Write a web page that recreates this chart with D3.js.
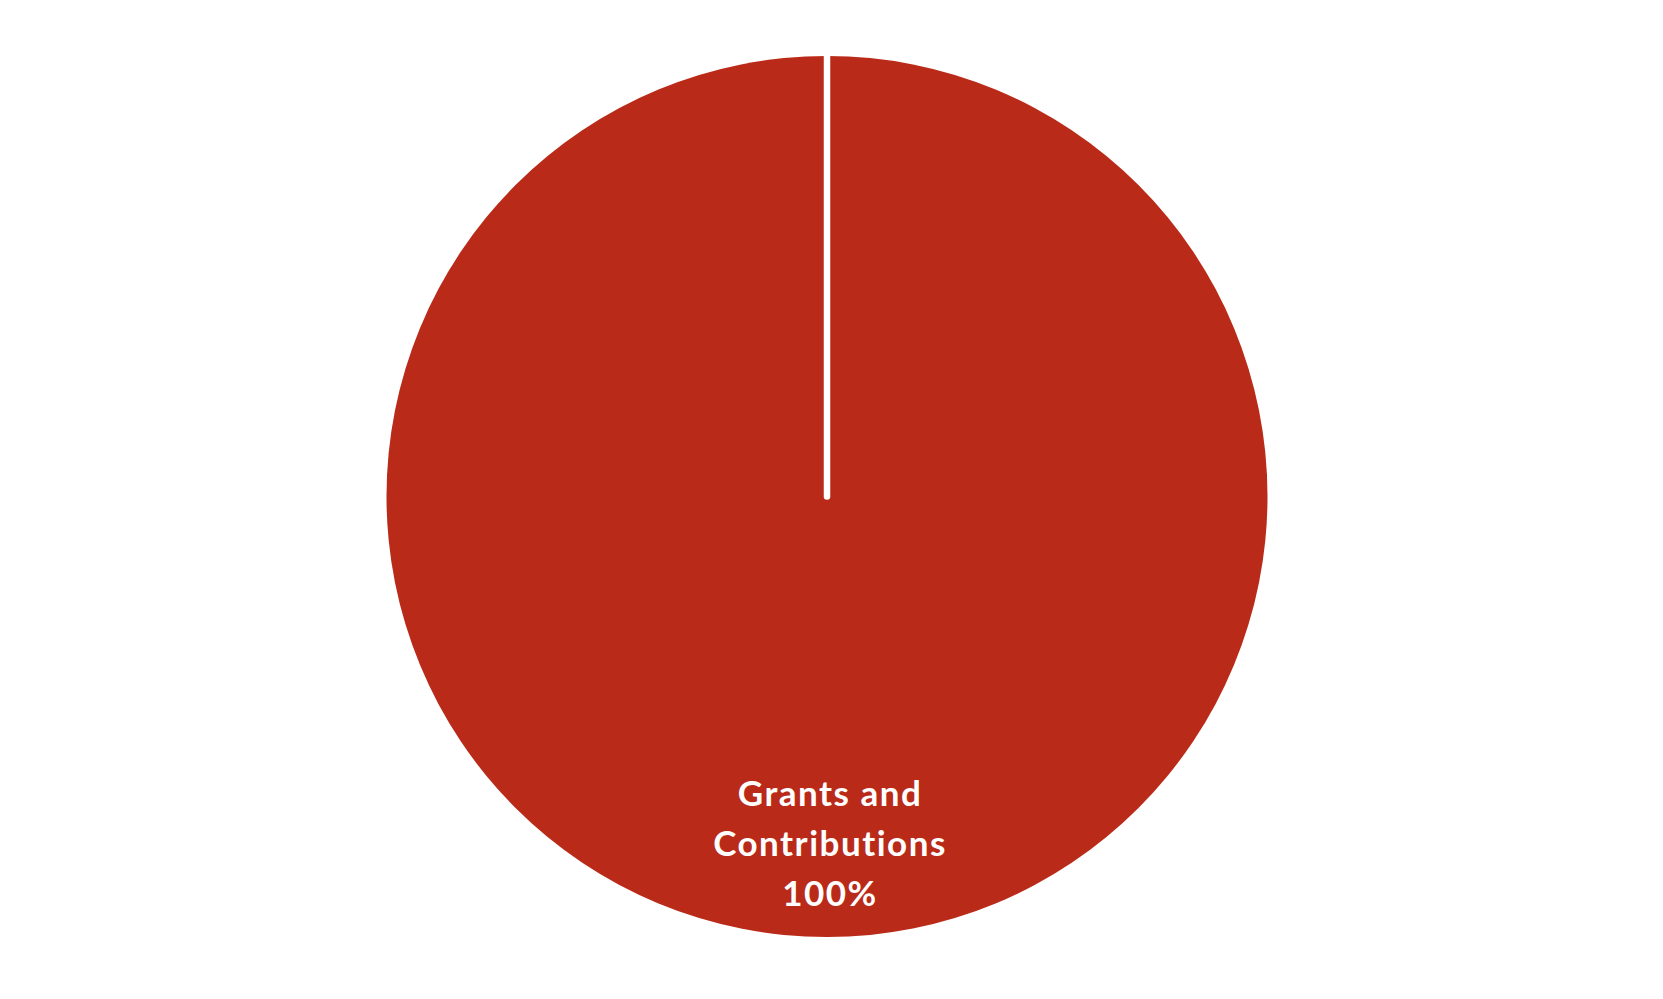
<!DOCTYPE html>
<html>
<head>
<meta charset="utf-8">
<script src="https://cdn.jsdelivr.net/npm/d3@7"></script>
<style>
  html, body { margin: 0; padding: 0; background: #fff; }
  svg { display: block; }
  text { font-variant-ligatures: none; font-feature-settings: "liga" 0, "dlig" 0; }
</style>
</head>
<body>
<svg id="chart" width="1663" height="999"></svg>
<script>
const categories = ["Grants and Contributions"];
const labelLines = [["Grants and", "Contributions"]];
const values = [100];
const colors = ["#BA2A19"];

const W = 1663, H = 999;
const cx = 827, cy = 496.5, R = 440.5;

const svg = d3.select("#chart");
const g = svg.append("g").attr("transform", `translate(${cx},${cy})`);

const pie = d3.pie().sort(null).value(d => d);
const arcs = pie(values);
const arc = d3.arc().innerRadius(0).outerRadius(R);
const labelArc = d3.arc().innerRadius(350).outerRadius(350);
const total = d3.sum(values);

g.selectAll("path.slice")
  .data(arcs)
  .join("path")
  .attr("class", "slice")
  .attr("d", arc)
  .attr("fill", (d, i) => colors[i]);

// slice borders (radial separators)
g.selectAll("line.sep")
  .data(arcs)
  .join("line")
  .attr("class", "sep")
  .attr("x1", 0).attr("y1", 0)
  .attr("x2", d => R * Math.sin(d.startAngle))
  .attr("y2", d => -R * Math.cos(d.startAngle))
  .attr("stroke", "#fff")
  .attr("stroke-width", 6.5)
  .attr("stroke-linecap", "round");

const lineH = 50;
arcs.forEach((d, i) => {
  const [lx, ly] = labelArc.centroid(d);
  const lines = labelLines[i].concat([Math.round(d.value / total * 100) + "%"]);
  const t = g.append("text")
    .attr("text-anchor", "middle")
    .attr("fill", "#fff")
    .attr("font-family", "Lato, 'Open Sans', sans-serif")
    .attr("font-weight", "bold")
    .attr("font-size", 35)
    .attr("letter-spacing", "1.5px");
  lines.forEach((s, k) => {
    t.append("tspan")
      .attr("x", lx + 3)
      .attr("y", ly + (k - (lines.length - 1) / 2) * lineH + 9)
      .text(s);
  });
});
</script>
</body>
</html>
